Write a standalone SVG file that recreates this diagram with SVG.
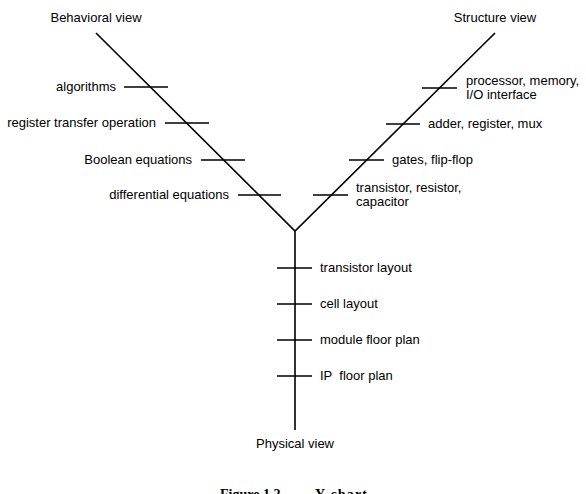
<svg xmlns="http://www.w3.org/2000/svg" width="586" height="494" viewBox="0 0 586 494">
<style>
.ln{stroke:#000;stroke-width:1.6;fill:none}
.tk{stroke:#000;stroke-width:1.5;fill:none}
text{font-family:"Liberation Sans",Arial,sans-serif;font-size:13px;fill:#000}
.cap{font-family:"Liberation Serif","Times New Roman",serif;font-weight:bold;font-size:14px}
.r{text-anchor:end}
</style>
<rect width="586" height="494" fill="#fff"/>
<g id="connectors">
<path class="ln" d="M96,33 L295,231 L495,33 M295,231 L295,430"/>
<path class="tk" d="M124,87 H168 M165,123 H209 M201,160 H245 M238,195 H281"/>
<path class="tk" d="M422,88 H457 M386,124 H420 M349,160 H384 M313,195 H348"/>
<path class="tk" d="M277,268 H312 M277,304 H312 M277,340 H312 M277,376 H312"/>
</g>
<g id="behavioral-view"><text x="96" y="22" text-anchor="middle">Behavioral view</text></g>
<g id="structure-view"><text x="495" y="22" text-anchor="middle">Structure view</text></g>
<g id="physical-view"><text x="295" y="448" text-anchor="middle">Physical view</text></g>
<g id="algorithms"><text class="r" x="116" y="91">algorithms</text></g>
<g id="rto"><text class="r" x="156" y="127">register transfer operation</text></g>
<g id="boolean"><text class="r" x="192" y="164">Boolean equations</text></g>
<g id="differential"><text class="r" x="229" y="199">differential equations</text></g>
<g id="processor"><text x="466" y="85">processor, memory,</text><text x="466" y="99">I/O interface</text></g>
<g id="adder"><text x="428" y="128">adder, register, mux</text></g>
<g id="gates"><text x="392" y="164">gates, flip-flop</text></g>
<g id="transistor"><text x="356" y="192">transistor, resistor,</text><text x="356" y="206">capacitor</text></g>
<g id="transistor-layout"><text x="320" y="272">transistor layout</text></g>
<g id="cell-layout"><text x="320" y="308">cell layout</text></g>
<g id="module-floor"><text x="320" y="344">module floor plan</text></g>
<g id="ip-floor"><text x="320" y="380" xml:space="preserve">IP  floor plan</text></g>
<g id="caption"><text class="cap" x="220" y="499">Figure 1.2</text><text class="cap" x="315" y="499" textLength="52">Y chart</text></g>
</svg>
